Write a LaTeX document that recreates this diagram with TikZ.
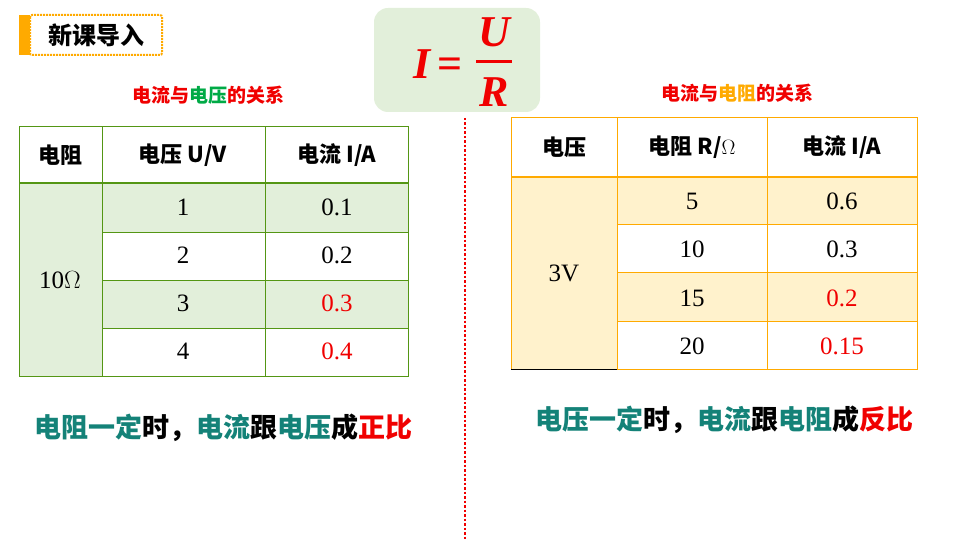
\documentclass[tikz,border=0pt]{standalone}
\usepackage{fontspec}
\newfontfamily\cjk{Noto Sans CJK SC}
\setmainfont{Liberation Serif}
\definecolor{lgreen}{RGB}{226,239,218}
\definecolor{tgreen}{RGB}{84,150,20}
\definecolor{lorange}{RGB}{255,242,204}
\definecolor{torange}{RGB}{255,170,0}
\definecolor{teal2}{RGB}{20,130,120}
\definecolor{red2}{RGB}{240,0,0}
\definecolor{green2}{RGB}{0,170,70}
\tikzset{
  cell/.style={font=\cjk\bfseries\fontsize{22}{22}\selectfont},
  num/.style={font=\fontsize{25}{25}\selectfont},
  title/.style={font=\cjk\bfseries\fontsize{19}{19}\selectfont},
  rule/.style={font=\cjk\bfseries\fontsize{27}{27}\selectfont},
  eq/.style={text=red2, font=\bfseries\itshape\fontsize{44}{44}\selectfont}
}
\begin{document}
\begin{tikzpicture}[x=1pt,y=-1pt]

\useasboundingbox (0,0) rectangle (960,540);

% heading
\fill[torange] (19,15) rectangle (30,55);
\draw[torange, densely dotted, line width=2pt, rounded corners=2] (30,15) rectangle (162,55);
\node[font=\cjk\bfseries\fontsize{24}{24}\selectfont] (head) at (96,35) {新课导入};

% formula
\fill[lgreen, rounded corners=14] (374,8) rectangle (540,112);
\node[eq] (lhs) at (438,64) {I\,\upshape=};
\node[eq] (num) at (494,32) {U};
\node[eq] (den) at (494,92) {R};
\draw[red2, line width=3pt] (476,62) -- (512,62);

% divider
\draw[red2, dotted, line width=2.5pt] (465,118) -- (465,540);

% left table
\node[title] (lcap) at (208,95) {\textcolor{red2}{电流与}\textcolor{green2}{电压}\textcolor{red2}{的关系}};
\fill[lgreen] (19,183) rectangle (102,376);
\fill[lgreen] (102,183) rectangle (408,232);
\fill[lgreen] (102,280) rectangle (408,328);
\begin{scope}[draw=tgreen, line width=1pt]
\draw (19,127) rectangle (408,376);
\draw (102,127) -- (102,376);
\draw (265,127) -- (265,376);
\draw[line width=2.5pt] (19,183) -- (408,183);
\foreach \y in {232,280,328} \draw (102,\y) -- (408,\y);
\end{scope}
\node[cell] (lh1) at (60,155) {电阻};
\node[cell] (lh2) at (183,155) {电压 U/V};
\node[cell] (lh3) at (337,155) {电流 I/A};
\node[num] (lr) at (60,280) {10$\Omega$};
\foreach \v/\i/\c [count=\k] in {1/0.1/black,2/0.2/black,3/0.3/red2,4/0.4/red2}{
  \node[num] (lu\k) at (183,159+48*\k) {\v};
  \node[num, text=\c] (li\k) at (337,159+48*\k) {\i};
}

% right table
\node[title] (rcap) at (737,93) {\textcolor{red2}{电流与}\textcolor{torange}{电阻}\textcolor{red2}{的关系}};
\fill[lorange] (511,177) rectangle (617,369);
\fill[lorange] (617,177) rectangle (917,224);
\fill[lorange] (617,272) rectangle (917,321);
\begin{scope}[draw=torange, line width=1pt]
\draw (511,118) rectangle (917,369);
\draw (617,118) -- (617,369);
\draw (767,118) -- (767,369);
\draw[line width=2.5pt] (511,177) -- (917,177);
\foreach \y in {224,272,321} \draw (617,\y) -- (917,\y);
\end{scope}
\draw[black, line width=1pt] (511,369) -- (617,369);
\node[cell] (rh1) at (564,147) {电压};
\node[cell] (rh2) at (692,147) {电阻 R/$\Omega$};
\node[cell] (rh3) at (842,147) {电流 I/A};
\node[num] (ru) at (564,273) {3V};
\foreach \r/\i/\c/\y [count=\k] in {5/0.6/black/201,10/0.3/black/249,15/0.2/red2/298,20/0.15/red2/346}{
  \node[num] (rr\k) at (692,\y) {\r};
  \node[num, text=\c] (ri\k) at (842,\y) {\i};
}

% conclusions
\node[rule] (lrule) at (223,428) {\textcolor{teal2}{电阻一定}时，\textcolor{teal2}{电流}跟\textcolor{teal2}{电压}成\textcolor{red2}{正比}};
\node[rule] (rrule) at (724,420) {\textcolor{teal2}{电压一定}时，\textcolor{teal2}{电流}跟\textcolor{teal2}{电阻}成\textcolor{red2}{反比}};

\end{tikzpicture}
\end{document}
